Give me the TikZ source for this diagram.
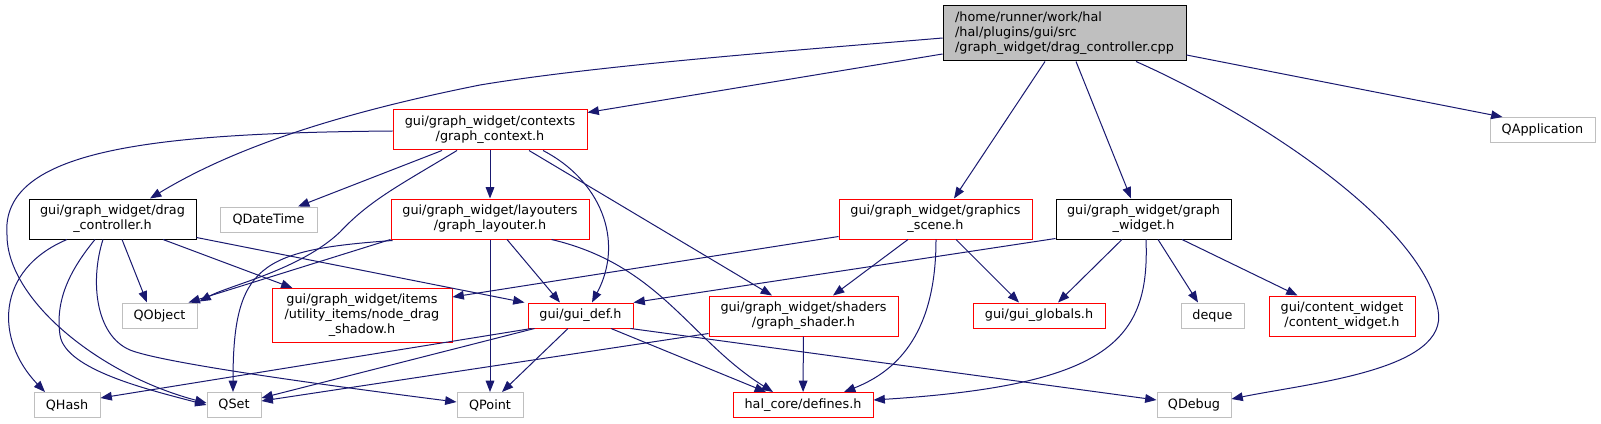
\documentclass[tikz,border=0pt]{standalone}
\usepackage{fontspec}
\setmainfont{DejaVu Sans}
\usetikzlibrary{arrows.meta,calc}
\definecolor{edgeblue}{HTML}{191970}
\definecolor{boxgray}{HTML}{BFBFBF}

\begin{document}
\begin{tikzpicture}[x=0.75pt,y=-0.75pt,
    file/.style={draw, line width=0.75pt, inner sep=0pt, minimum height=18.75pt,
      align=center, font=\fontsize{9.6}{11.25}\selectfont},
    redfile/.style={file, draw=red},
    sysfile/.style={file, draw=boxgray},
    docfile/.style={file, draw=black},
    dep/.style={draw=edgeblue, line width=0.75pt, -{Triangle[length=8.5pt,width=6.5pt]}}]
    \fill[white] (0,0) rectangle (1601,424);
    \useasboundingbox (0,0) rectangle (1601,424);

    % files
    \node[docfile, fill=boxgray, align=left, minimum width=182.25pt, minimum height=41.25pt] (main) at (1064.5,33.5)
      {/home/runner/work/hal\\/hal/plugins/gui/src\\/graph\_widget/drag\_controller.cpp};
    \node[redfile, minimum width=145.5pt, minimum height=30pt] (context) at (490,130) {gui/graph\_widget/contexts\\/graph\_context.h};
    \node[sysfile, minimum width=78.75pt] (qapp) at (1542.5,130) {QApplication};
    \node[docfile, minimum width=125.25pt, minimum height=30pt] (dragh) at (112.5,219) {gui/graph\_widget/drag\\\_controller.h};
    \node[sysfile, minimum width=72.75pt] (qdatetime) at (268.5,219.5) {QDateTime};
    \node[redfile, minimum width=148.5pt, minimum height=30pt] (layouter) at (490,219) {gui/graph\_widget/layouters\\/graph\_layouter.h};
    \node[redfile, minimum width=144.75pt, minimum height=30pt] (scene) at (935.5,219) {gui/graph\_widget/graphics\\\_scene.h};
    \node[docfile, minimum width=131.25pt, minimum height=30pt] (gwidget) at (1143.5,219) {gui/graph\_widget/graph\\\_widget.h};
    \node[sysfile, minimum width=56.25pt] (qobject) at (159.5,315.5) {QObject};
    \node[redfile, minimum width=135pt, minimum height=40.5pt] (shadow) at (362,315.5) {gui/graph\_widget/items\\/utility\_items/node\_drag\\\_shadow.h};
    \node[redfile, minimum width=78.75pt] (guidef) at (580.5,315.5) {gui/gui\_def.h};
    \node[redfile, minimum width=141.75pt, minimum height=30pt] (shader) at (803.5,316) {gui/graph\_widget/shaders\\/graph\_shader.h};
    \node[redfile, minimum width=99pt] (globals) at (1039,315.5) {gui/gui\_globals.h};
    \node[sysfile, minimum width=47.25pt] (deque) at (1212.5,315.5) {deque};
    \node[redfile, minimum width=109.5pt, minimum height=30pt] (content) at (1342,316) {gui/content\_widget\\/content\_widget.h};
    \node[sysfile, minimum width=49.5pt] (qhash) at (67,405) {QHash};
    \node[sysfile, minimum width=40.5pt] (qset) at (234,405) {QSet};
    \node[sysfile, minimum width=49.5pt] (qpoint) at (490,405) {QPoint};
    \node[redfile, minimum width=105pt] (defines) at (803,405) {hal\_core/defines.h};
    \node[sysfile, minimum width=55.5pt] (qdebug) at (1194,405) {QDebug};

    % includes of the source file
    \draw[dep] ($(main.west)+(0,4.5)$) .. controls (800,50) and (600,65) .. (480,85)
      .. controls (330,115) and (230,150) .. ($(dragh.north)+(37.5,0)$);
    \draw[dep] ($(main.west)+(0,20.5)$) -- ($(context.north east)+(0,3)$);
    \draw[dep] ($(main.south)+(-19.5,0)$) -- ($(scene.north)+(18.5,0)$);
    \draw[dep] ($(main.south)+(11.5,0)$) -- ($(gwidget.north)+(-12.5,0)$);
    \draw[dep] ($(main.south)+(71.5,0)$) .. controls (1250,112) and (1420,220) .. (1438,310)
      .. controls (1450,370) and (1310,383) .. ($(qdebug.east)+(0,-6)$);
    \draw[dep] ($(main.east)+(0,21.5)$) -- ($(qapp.north west)+(13,0)$);

    % graph_context.h
    \draw[dep] ($(context.west)+(0,1)$) .. controls (150,133) and (0,150) .. (7,235)
      .. controls (7,300) and (100,375) .. ($(qset.west)+(0,-2)$);
    \draw[dep] ($(context.south)+(-48,0)$) -- ($(qdatetime.north)+(29.5,0)$);
    \draw[dep] ($(context.south)+(-33,0)$) .. controls (400,185) and (370,200) .. (340,232)
      .. controls (300,270) and (230,285) .. ($(qobject.north east)+(2,-1)$);
    \draw[dep] (context) -- (layouter);
    \draw[dep] ($(context.south)+(53,0)$) .. controls (600,180) and (625,240) .. ($(guidef.north)+(11.5,0)$);
    \draw[dep] ($(context.south)+(39,0)$) -- ($(shader.north)+(-31.5,0)$);

    % drag_controller.h
    \draw[dep] ($(dragh.south)+(-45.5,0)$) .. controls (-5,270) and (-5,340) .. ($(qhash.north)+(-22,0)$);
    \draw[dep] ($(dragh.south)+(-17.5,0)$) .. controls (70,270) and (55,300) .. (60,335)
      .. controls (65,370) and (150,390) .. (qset.west);
    \draw[dep] ($(dragh.south)+(-9.5,0)$) .. controls (90,280) and (95,335) .. (130,350)
      .. controls (160,362) and (300,382) .. ($(qpoint.west)+(0,-3)$);
    \draw[dep] ($(dragh.south)+(9.5,0)$) -- ($(qobject.north)+(-12.5,0)$);
    \draw[dep] ($(dragh.south)+(50.5,0)$) -- ($(shadow.north west)+(21,0)$);
    \draw[dep] ($(dragh.south east)+(0,-2)$) -- ($(guidef.north west)+(-3,0)$);

    % graph_layouter.h
    \draw[dep] (layouter.south west) -- ($(qobject.north east)+(-9,0)$);
    \draw[dep] ($(layouter.south west)+(2,1)$) .. controls (260,250) and (233,265) .. ($(qset.north)+(-1,0)$);
    \draw[dep] (layouter) -- (qpoint);
    \draw[dep] ($(layouter.south)+(17,0)$) -- ($(guidef.north)+(-20.5,0)$);
    \draw[dep] ($(layouter.south east)+(-38,0)$) .. controls (660,265) and (690,340) .. ($(defines.north)+(-30,0)$);

    % gui_def.h
    \draw[dep] ($(guidef.south west)+(4,0)$) -- ($(qhash.east)+(0,-7)$);
    \draw[dep] ($(guidef.south west)+(7,0)$) -- ($(qset.east)+(0,-7)$);
    \draw[dep] ($(guidef.south)+(-12.5,0)$) -- ($(qpoint.north)+(12,0)$);
    \draw[dep] ($(guidef.south)+(30.5,0)$) -- ($(defines.north)+(-37,0)$);
    \draw[dep] ($(guidef.south east)+(-3,0)$) -- ($(qdebug.west)+(0,-5)$);

    % graphics_scene.h
    \draw[dep] ($(scene.south west)+(0,-3)$) -- ($(shadow.north east)+(0,9)$);
    \draw[dep] ($(scene.south)+(-27.5,0)$) -- ($(shader.north)+(29.5,0)$);
    \draw[dep] ($(scene.south)+(20.5,0)$) -- ($(globals.north)+(-20,0)$);
    \draw[dep] ($(scene.south)+(0.5,0)$) .. controls (936,330) and (900,370) .. ($(defines.north)+(41,0)$);

    % graph_widget.h
    \draw[dep] ($(gwidget.south west)+(0,-1)$) -- (guidef.north east);
    \draw[dep] ($(gwidget.south)+(-21.5,0)$) -- ($(globals.north)+(19,0)$);
    \draw[dep] ($(gwidget.south)+(2.5,0)$) .. controls (1150,340) and (1110,385) .. ($(defines.east)+(0,-5)$);
    \draw[dep] ($(gwidget.south)+(14.5,0)$) -- ($(deque.north)+(-14.5,0)$);
    \draw[dep] ($(gwidget.south)+(38.5,0)$) -- ($(content.north west)+(29,0)$);

    % graph_shader.h
    \draw[dep] (shader) -- (defines);
    \draw[dep] ($(shader.south west)+(0,-3)$) -- ($(qset.east)+(0,-4)$);
\end{tikzpicture}
\end{document}
